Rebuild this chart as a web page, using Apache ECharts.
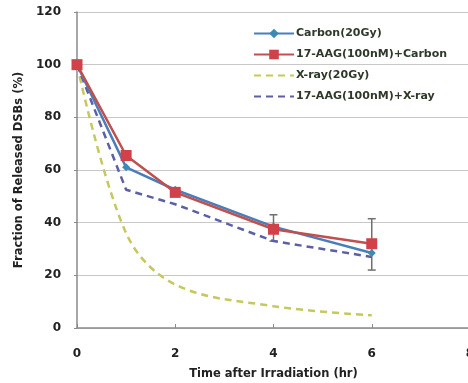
<!DOCTYPE html>
<html>
<head>
<meta charset="utf-8">
<script src="https://cdn.jsdelivr.net/npm/echarts@6/dist/echarts.min.js"></script>
<style>
  html, body { margin: 0; padding: 0; background: #fff; }
  #main { width: 468px; height: 383px; }
</style>
</head>
<body>
<div id="main"></div>
<script>
// time points (hr)
var hours = [0, 1, 2, 4, 6];
var carbon = [100, 61, 52.5, 38.5, 28.5];
var aagCarbon = [100, 65.5, 51.5, 37.5, 32];
var xray = [100, 36, 16.5, 8.3, 4.8];
var aagXray = [100, 52.5, 47, 33, 27];
// error bars (on 17-AAG + Carbon)
var errHours = [4, 6];
var errLow = [33, 22];
var errHigh = [43, 41.5];

var seriesNames = ['Carbon(20Gy)', '17-AAG(100nM)+Carbon', 'X-ray(20Gy)', '17-AAG(100nM)+X-ray'];

function pairs(ys) {
  return hours.map(function (h, i) { return [h, ys[i]]; });
}

var chart = echarts.init(document.getElementById('main'));
var font = '"DejaVu Sans", sans-serif';

chart.setOption({
  animation: false,
  textStyle: { fontFamily: font },
  grid: { left: 77, top: 12, width: 393, height: 316, outerBoundsMode: 'none', containLabel: false },
  legend: {
    orient: 'vertical',
    left: 248,
    top: 23,
    itemGap: 10,
    itemWidth: 40,
    itemHeight: 12,
    data: [
      { name: seriesNames[0] },
      { name: seriesNames[1] },
      { name: seriesNames[2], itemStyle: { opacity: 0 } },
      { name: seriesNames[3], itemStyle: { opacity: 0 } }
    ],
    textStyle: { fontSize: 11, fontWeight: 'bold', color: '#2d3a28', fontFamily: font, padding: [0, 0, 0, -3] }
  },
  xAxis: {
    type: 'value',
    min: 0, max: 8, interval: 2,
    name: 'Time after Irradiation (hr)',
    nameLocation: 'middle',
    nameGap: 40,
    nameTextStyle: { fontSize: 11.5, fontWeight: 'bold', color: '#222' },
    axisLine: { lineStyle: { color: '#8a8a8a', width: 1.5 } },
    axisTick: { inside: true, length: 4, lineStyle: { color: '#8a8a8a' } },
    axisLabel: { fontSize: 12, fontWeight: 'bold', color: '#222', margin: 20 },
    splitLine: { show: false }
  },
  yAxis: {
    type: 'value',
    min: 0, max: 120, interval: 20,
    name: 'Fraction of Released DSBs (%)',
    nameLocation: 'middle',
    nameGap: 50,
    nameTextStyle: { fontSize: 11.5, fontWeight: 'bold', color: '#222' },
    axisLine: { show: true, lineStyle: { color: '#8a8a8a', width: 1.5 } },
    axisTick: { show: true, length: 3, lineStyle: { color: '#8a8a8a' } },
    axisLabel: { fontSize: 12, fontWeight: 'bold', color: '#222', margin: 16 },
    splitLine: { lineStyle: { color: '#c8c8c8', width: 1 } }
  },
  series: [
    {
      name: seriesNames[2],
      type: 'line',
      smooth: 0.35,
      data: pairs(xray),
      symbol: 'none',
      lineStyle: { color: '#c6c85e', width: 2.5, type: [7, 5] },
      itemStyle: { color: '#c6c85e' }
    },
    {
      name: seriesNames[3],
      type: 'line',
      data: pairs(aagXray),
      symbol: 'none',
      lineStyle: { color: '#5d5fa6', width: 2.5, type: [7, 5] },
      itemStyle: { color: '#5d5fa6' }
    },
    {
      name: seriesNames[0],
      type: 'line',
      data: pairs(carbon),
      symbol: 'diamond',
      symbolSize: 8,
      lineStyle: { color: '#4a7ebb', width: 2.5 },
      itemStyle: { color: '#3a8bb5' }
    },
    {
      name: seriesNames[1],
      type: 'line',
      data: pairs(aagCarbon),
      symbol: 'rect',
      symbolSize: 11,
      lineStyle: { color: '#c0504d', width: 2.5 },
      itemStyle: { color: '#d0414a' }
    },
    {
      type: 'custom',
      silent: true,
      data: errHours.map(function (h, i) { return [h, errLow[i], errHigh[i]]; }),
      renderItem: function (params, api) {
        var lo = api.coord([api.value(0), api.value(1)]);
        var hi = api.coord([api.value(0), api.value(2)]);
        var c = 4;
        var st = { stroke: '#707070', lineWidth: 1.5 };
        return {
          type: 'group',
          children: [
            { type: 'line', shape: { x1: lo[0], y1: lo[1], x2: hi[0], y2: hi[1] }, style: st },
            { type: 'line', shape: { x1: lo[0] - c, y1: lo[1], x2: lo[0] + c, y2: lo[1] }, style: st },
            { type: 'line', shape: { x1: hi[0] - c, y1: hi[1], x2: hi[0] + c, y2: hi[1] }, style: st }
          ]
        };
      },
      z: 1
    }
  ]
});
</script>
</body>
</html>
